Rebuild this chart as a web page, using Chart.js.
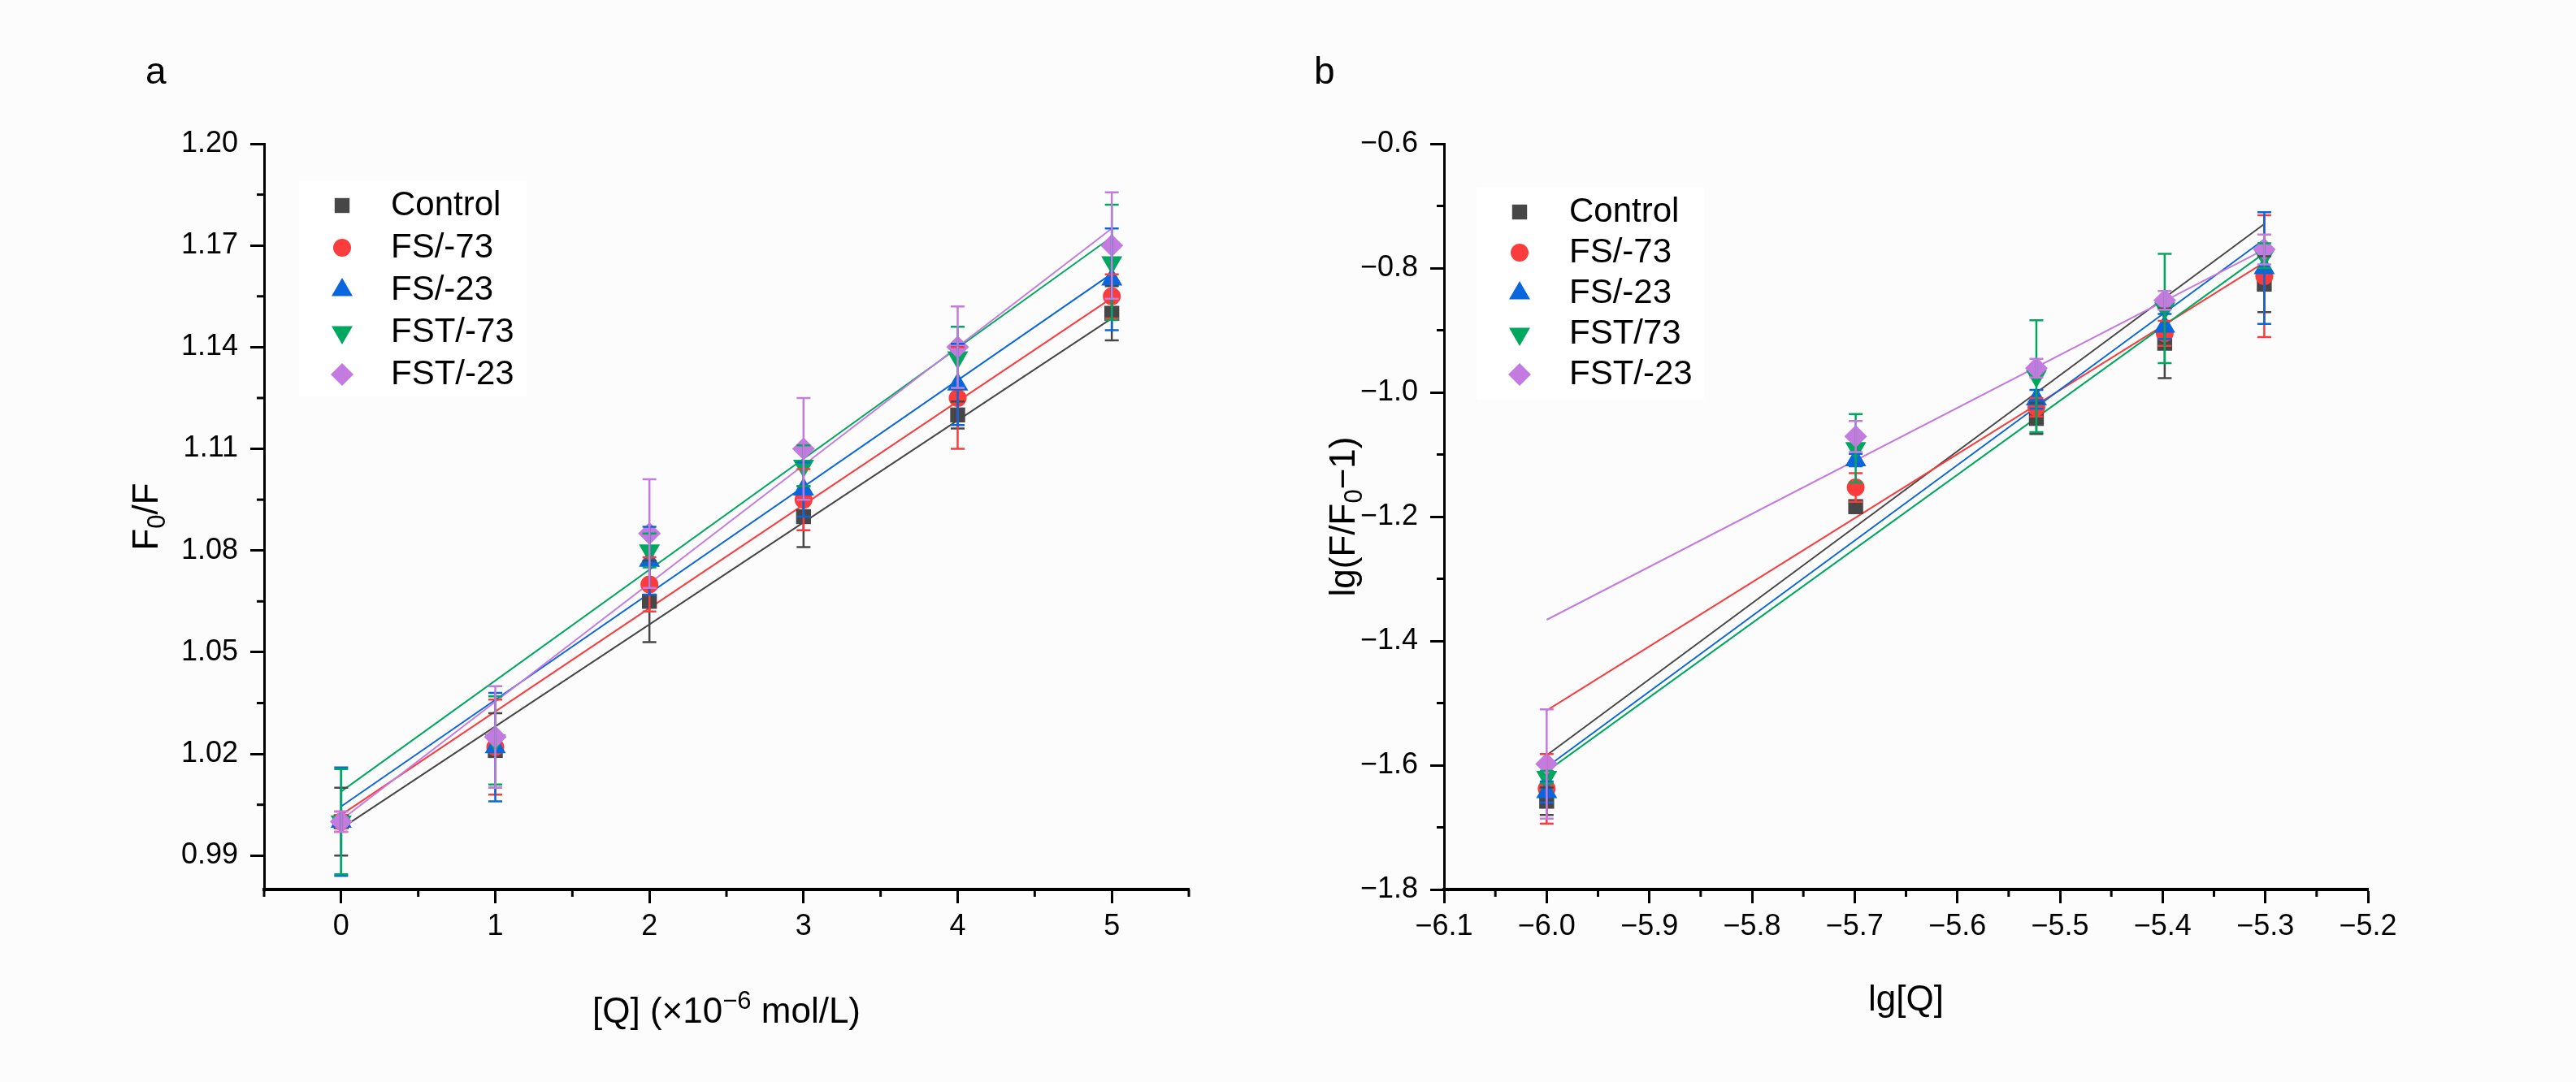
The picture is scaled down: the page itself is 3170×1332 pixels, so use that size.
<!DOCTYPE html>
<html>
<head>
<meta charset="utf-8">
<script src="https://cdn.jsdelivr.net/npm/chart.js@4.4.1/dist/chart.umd.min.js"></script>
<style>
  html, body { margin: 0; padding: 0; background: #fcfcfc; }
  #page { position: relative; width: 3170px; height: 1332px; overflow: hidden; }
  .panel { position: absolute; top: 0; width: 1585px; height: 1332px; }
  .tag { position: absolute; top: 64px; font-family: "Liberation Sans", Arial, sans-serif; font-size: 46px; line-height: 46px; color: #000; }
</style>
</head>
<body>
<div id="page">
  <div class="panel" style="left:0"><canvas id="chartA"></canvas></div>
  <div class="panel" style="left:1585px"><canvas id="chartB"></canvas></div>
  <div class="tag" style="left:179px">a</div>
  <div class="tag" style="left:1617px">b</div>
</div>
<script>
/* --------------------------
   SERIES
-------------------------- */
const namesA = ["Control", "FS/-73", "FS/-23", "FST/-73", "FST/-23"];
const namesB = ["Control", "FS/-73", "FS/-23", "FST/73", "FST/-23"];
const colors = ["#474747", "#fa3c3c", "#0a66dc", "#00a85f", "#c47bdf"];
const shapes = ["rect", "circle", "triangle", "triangle", "rectRot"];
const rotations = [0, 0, 0, 180, 0];
const radii = [13, 11, 15, 15, 14];

/* --------------------------
   PANEL A  (F0/F vs [Q])
-------------------------- */
const concX = [0, 1, 2, 3, 4, 5];
const controlA = [1.000, 1.021, 1.065, 1.090, 1.120, 1.150];
const fs73A    = [1.000, 1.022, 1.070, 1.095, 1.125, 1.155];
const fs23A    = [1.000, 1.022, 1.077, 1.098, 1.129, 1.160];
const fst73A   = [1.000, 1.024, 1.080, 1.105, 1.137, 1.165];
const fst23A   = [1.000, 1.025, 1.085, 1.110, 1.140, 1.170];

const controlErrA = [0.010, 0.011, 0.012, 0.009, 0.004, 0.008];
const fs73ErrA    = [0.003, 0.014, 0.008, 0.009, 0.015, 0.0065];
const fs23ErrA    = [0.016, 0.016, 0.010, 0.008, 0.012, 0.015];
const fst73ErrA   = [0.0155, 0.013, 0.005, 0.006, 0.009, 0.017];
const fst23ErrA   = [0.003, 0.015, 0.016, 0.015, 0.012, 0.0157];

const fitXA = [0, 5];
const controlFitA = [0.998, 1.1485];
const fs73FitA    = [1.002, 1.1545];
const fs23FitA    = [1.0045, 1.1617];
const fst73FitA   = [1.0089, 1.1725];
const fst23FitA   = [1.0005, 1.175];

const xTicksA = [0, 1, 2, 3, 4, 5];
const xMinorA = [-0.5, 0.5, 1.5, 2.5, 3.5, 4.5, 5.5];
const yTicksA = [0.99, 1.02, 1.05, 1.08, 1.11, 1.14, 1.17, 1.20];
const yMinorA = [1.005, 1.035, 1.065, 1.095, 1.125, 1.155, 1.185];

/* --------------------------
   PANEL B  (lg(F/F0-1) vs lg[Q])
-------------------------- */
const logX = [-6.000, -5.699, -5.523, -5.398, -5.301];
const controlB = [-1.658, -1.184, -1.042, -0.921, -0.826];
const fs73B    = [-1.638, -1.153, -1.024, -0.905, -0.813];
const fs23B    = [-1.643, -1.109, -1.011, -0.894, -0.800];
const fst73B   = [-1.619, -1.090, -0.974, -0.865, -0.780];
const fst23B   = [-1.598, -1.071, -0.961, -0.852, -0.770];

const controlErrB = [0.022, 0.010, 0.025, 0.056, 0.045];
const fs73ErrB    = [0.056, 0.023, 0.015, 0.020, 0.098];
const fs23ErrB    = [0.017, 0.010, 0.015, 0.020, 0.090];
const fst73ErrB   = [0.010, 0.055, 0.090, 0.088, 0.020];
const fst23ErrB   = [0.088, 0.025, 0.015, 0.015, 0.024];

const fitXB = [-6.0, -5.301];
const controlFitB = [-1.584, -0.729];
const fs73FitB    = [-1.512, -0.791];
const fs23FitB    = [-1.603, -0.754];
const fst73FitB   = [-1.610, -0.776];
const fst23FitB   = [-1.366, -0.770];

const xTicksB = [-6.1, -6.0, -5.9, -5.8, -5.7, -5.6, -5.5, -5.4, -5.3, -5.2];
const xMinorB = [-6.05, -5.95, -5.85, -5.75, -5.65, -5.55, -5.45, -5.35, -5.25];
const yTicksB = [-1.8, -1.6, -1.4, -1.2, -1.0, -0.8, -0.6];
const yMinorB = [-1.7, -1.5, -1.3, -1.1, -0.9, -0.7];

/* --------------------------
   AXIS TITLES  (text, "sub"/"sup" marks small raised or lowered parts)
-------------------------- */
const titleXA = [["[Q] (\u00d710"], ["\u22126", "sup"], [" mol/L)"]];
const titleYA = [["F"], ["0", "sub"], ["/F"]];
const titleXB = [["lg[Q]"]];
const titleYB = [["lg(F/F"], ["0", "sub"], ["\u22121)"]];

/* --------------------------
   DEFAULTS
-------------------------- */
const FONT = "'Liberation Sans', Arial, sans-serif";
Chart.defaults.font.family = FONT;
Chart.defaults.color = "#000";

const minus = s => s.replace("-", "\u2212");

/* --------------------------
   PLUGINS
-------------------------- */
function errorBarsPlugin(xs, ys, errs) {
    return {
        id: "errorBars",
        afterDatasetsDraw(chart) {
            const ctx = chart.ctx;
            const sx = chart.scales.x, sy = chart.scales.y;
            ctx.save();
            ctx.lineWidth = 2.5;
            ys.forEach((vals, i) => {
                ctx.strokeStyle = colors[i];
                vals.forEach((v, k) => {
                    const px = sx.getPixelForValue(xs[k]);
                    const top = sy.getPixelForValue(v + errs[i][k]);
                    const bot = sy.getPixelForValue(v - errs[i][k]);
                    ctx.beginPath();
                    ctx.moveTo(px, top); ctx.lineTo(px, bot);
                    ctx.moveTo(px - 8.5, top); ctx.lineTo(px + 8.5, top);
                    ctx.moveTo(px - 8.5, bot); ctx.lineTo(px + 8.5, bot);
                    ctx.stroke();
                });
            });
            ctx.restore();
        }
    };
}

function minorTicksPlugin(xMinor, yMinor) {
    return {
        id: "minorTicks",
        afterDraw(chart) {
            const ctx = chart.ctx;
            const sx = chart.scales.x, sy = chart.scales.y;
            ctx.save();
            ctx.strokeStyle = "#000";
            ctx.lineWidth = 3;
            xMinor.forEach(v => {
                const px = sx.getPixelForValue(v);
                ctx.beginPath(); ctx.moveTo(px, sx.top); ctx.lineTo(px, sx.top + 9); ctx.stroke();
            });
            yMinor.forEach(v => {
                const py = sy.getPixelForValue(v);
                ctx.beginPath(); ctx.moveTo(sy.right, py); ctx.lineTo(sy.right - 9, py); ctx.stroke();
            });
            ctx.restore();
        }
    };
}

function legendPlugin(names, symX, textX, top, step, box) {
    return {
        id: "insideLegend",
        afterDraw(chart) {
            const ctx = chart.ctx;
            ctx.save();
            ctx.fillStyle = "#ffffff";
            ctx.fillRect(box[0], box[1], box[2], box[3]);
            names.forEach((name, i) => {
                const y = top + i * step;
                ctx.fillStyle = colors[i];
                Chart.helpers.drawPoint(ctx, {
                    pointStyle: shapes[i], rotation: rotations[i], radius: radii[i], borderWidth: 0
                }, symX, y);
                ctx.fillStyle = "#000";
                ctx.font = "42px " + FONT;
                ctx.textBaseline = "middle";
                ctx.textAlign = "left";
                ctx.fillText(name, textX, y);
            });
            ctx.restore();
        }
    };
}

// axis titles with sub/superscripts, centred on the chart area
function titlesPlugin(xParts, yParts, xTitleY, yTitleX) {
    const big = 44, small = 31;
    function draw(ctx, parts, cx, cy, vertical) {
        ctx.save();
        ctx.translate(cx, cy);
        if (vertical) ctx.rotate(-Math.PI / 2);
        ctx.fillStyle = "#000";
        ctx.textAlign = "left";
        ctx.textBaseline = "alphabetic";
        let w = 0;
        parts.forEach(p => {
            ctx.font = (p[1] ? small : big) + "px " + FONT;
            w += ctx.measureText(p[0]).width;
        });
        let x = -w / 2;
        parts.forEach(p => {
            ctx.font = (p[1] ? small : big) + "px " + FONT;
            const dy = p[1] === "sub" ? 9 : p[1] === "sup" ? -17 : 0;
            ctx.fillText(p[0], x, 16 + dy);
            x += ctx.measureText(p[0]).width;
        });
        ctx.restore();
    }
    return {
        id: "richTitles",
        afterDraw(chart) {
            const a = chart.chartArea;
            draw(chart.ctx, xParts, (a.left + a.right) / 2, xTitleY, false);
            draw(chart.ctx, yParts, yTitleX, (a.top + a.bottom) / 2, true);
        }
    };
}

/* --------------------------
   BUILD
-------------------------- */
function buildDatasets(names, xs, ys, fitX, fits) {
    const sets = [];
    fits.forEach((f, i) => {
        sets.push({
            label: names[i] + " fit",
            data: fitX.map((x, k) => ({ x, y: f[k] })),
            showLine: true,
            pointRadius: 0,
            borderColor: colors[i],
            borderWidth: 2,
            order: 20 - i
        });
    });
    ys.forEach((vals, i) => {
        sets.push({
            label: names[i],
            data: xs.map((x, k) => ({ x, y: vals[k] })),
            showLine: false,
            pointStyle: shapes[i],
            pointRotation: rotations[i],
            pointRadius: radii[i],
            pointBorderWidth: 0,
            backgroundColor: colors[i],
            borderColor: colors[i],
            order: 5 - i
        });
    });
    return sets;
}

function axis(cfg) {
    return {
        type: "linear",
        min: cfg.min,
        max: cfg.max,
        afterBuildTicks: s => { s.ticks = cfg.ticks.map(v => ({ value: v })); },
        afterFit: s => {
            if (cfg.width !== undefined) s.width = cfg.width;
            if (cfg.height !== undefined) s.height = cfg.height;
        },
        grid: {
            drawOnChartArea: false,
            drawTicks: true,
            tickLength: 17,
            tickWidth: 3,
            tickColor: "#000"
        },
        border: { display: true, color: "#000", width: cfg.border },
        ticks: {
            color: "#000",
            font: { size: 36 },
            padding: cfg.tickPad,
            autoSkip: false,
            maxRotation: 0,
            callback: v => minus(v.toFixed(cfg.digits))
        },
        title: { display: false }
    };
}

function makeChart(id, datasets, plugins, pad, scales) {
    return new Chart(document.getElementById(id), {
        type: "scatter",
        data: { datasets },
        options: {
            responsive: true,
            maintainAspectRatio: false,
            animation: false,
            events: [],
            layout: { padding: pad },
            plugins: { legend: { display: false }, tooltip: { enabled: false } },
            scales
        },
        plugins
    });
}

const ysA = [controlA, fs73A, fs23A, fst73A, fst23A];
const errsA = [controlErrA, fs73ErrA, fs23ErrA, fst73ErrA, fst23ErrA];
const fitsA = [controlFitA, fs73FitA, fs23FitA, fst73FitA, fst23FitA];

makeChart("chartA",
    buildDatasets(namesA, concX, ysA, fitXA, fitsA),
    [errorBarsPlugin(concX, ysA, errsA), minorTicksPlugin(xMinorA, yMinorA),
     legendPlugin(namesA, 421, 481, 253, 52, [368, 222, 280, 266]),
     titlesPlugin(titleXA, titleYA, 1243, 178)],
    { left: 0, top: 177, right: 122, bottom: 0 },
    {
        x: axis({ min: -0.5, max: 5.5, ticks: xTicksA, digits: 0, border: 4, height: 237, tickPad: 7 }),
        y: axis({ min: 0.98, max: 1.20, ticks: yTicksA, digits: 2, border: 3, width: 325, tickPad: 15 })
    });

const ysB = [controlB, fs73B, fs23B, fst73B, fst23B];
const errsB = [controlErrB, fs73ErrB, fs23ErrB, fst73ErrB, fst23ErrB];
const fitsB = [controlFitB, fs73FitB, fs23FitB, fst73FitB, fst23FitB];

makeChart("chartB",
    buildDatasets(namesB, logX, ysB, fitXB, fitsB),
    [errorBarsPlugin(logX, ysB, errsB), minorTicksPlugin(xMinorB, yMinorB),
     legendPlugin(namesB, 285, 346, 261, 50, [232, 230, 280, 262]),
     titlesPlugin(titleXB, titleYB, 1228, 66)],
    { left: 0, top: 177, right: 256, bottom: 0 },
    {
        x: axis({ min: -6.1, max: -5.2, ticks: xTicksB, digits: 1, border: 4, height: 237, tickPad: 7 }),
        y: axis({ min: -1.8, max: -0.6, ticks: yTicksB, digits: 1, border: 3, width: 192, tickPad: 15 })
    });
</script>
</body>
</html>
